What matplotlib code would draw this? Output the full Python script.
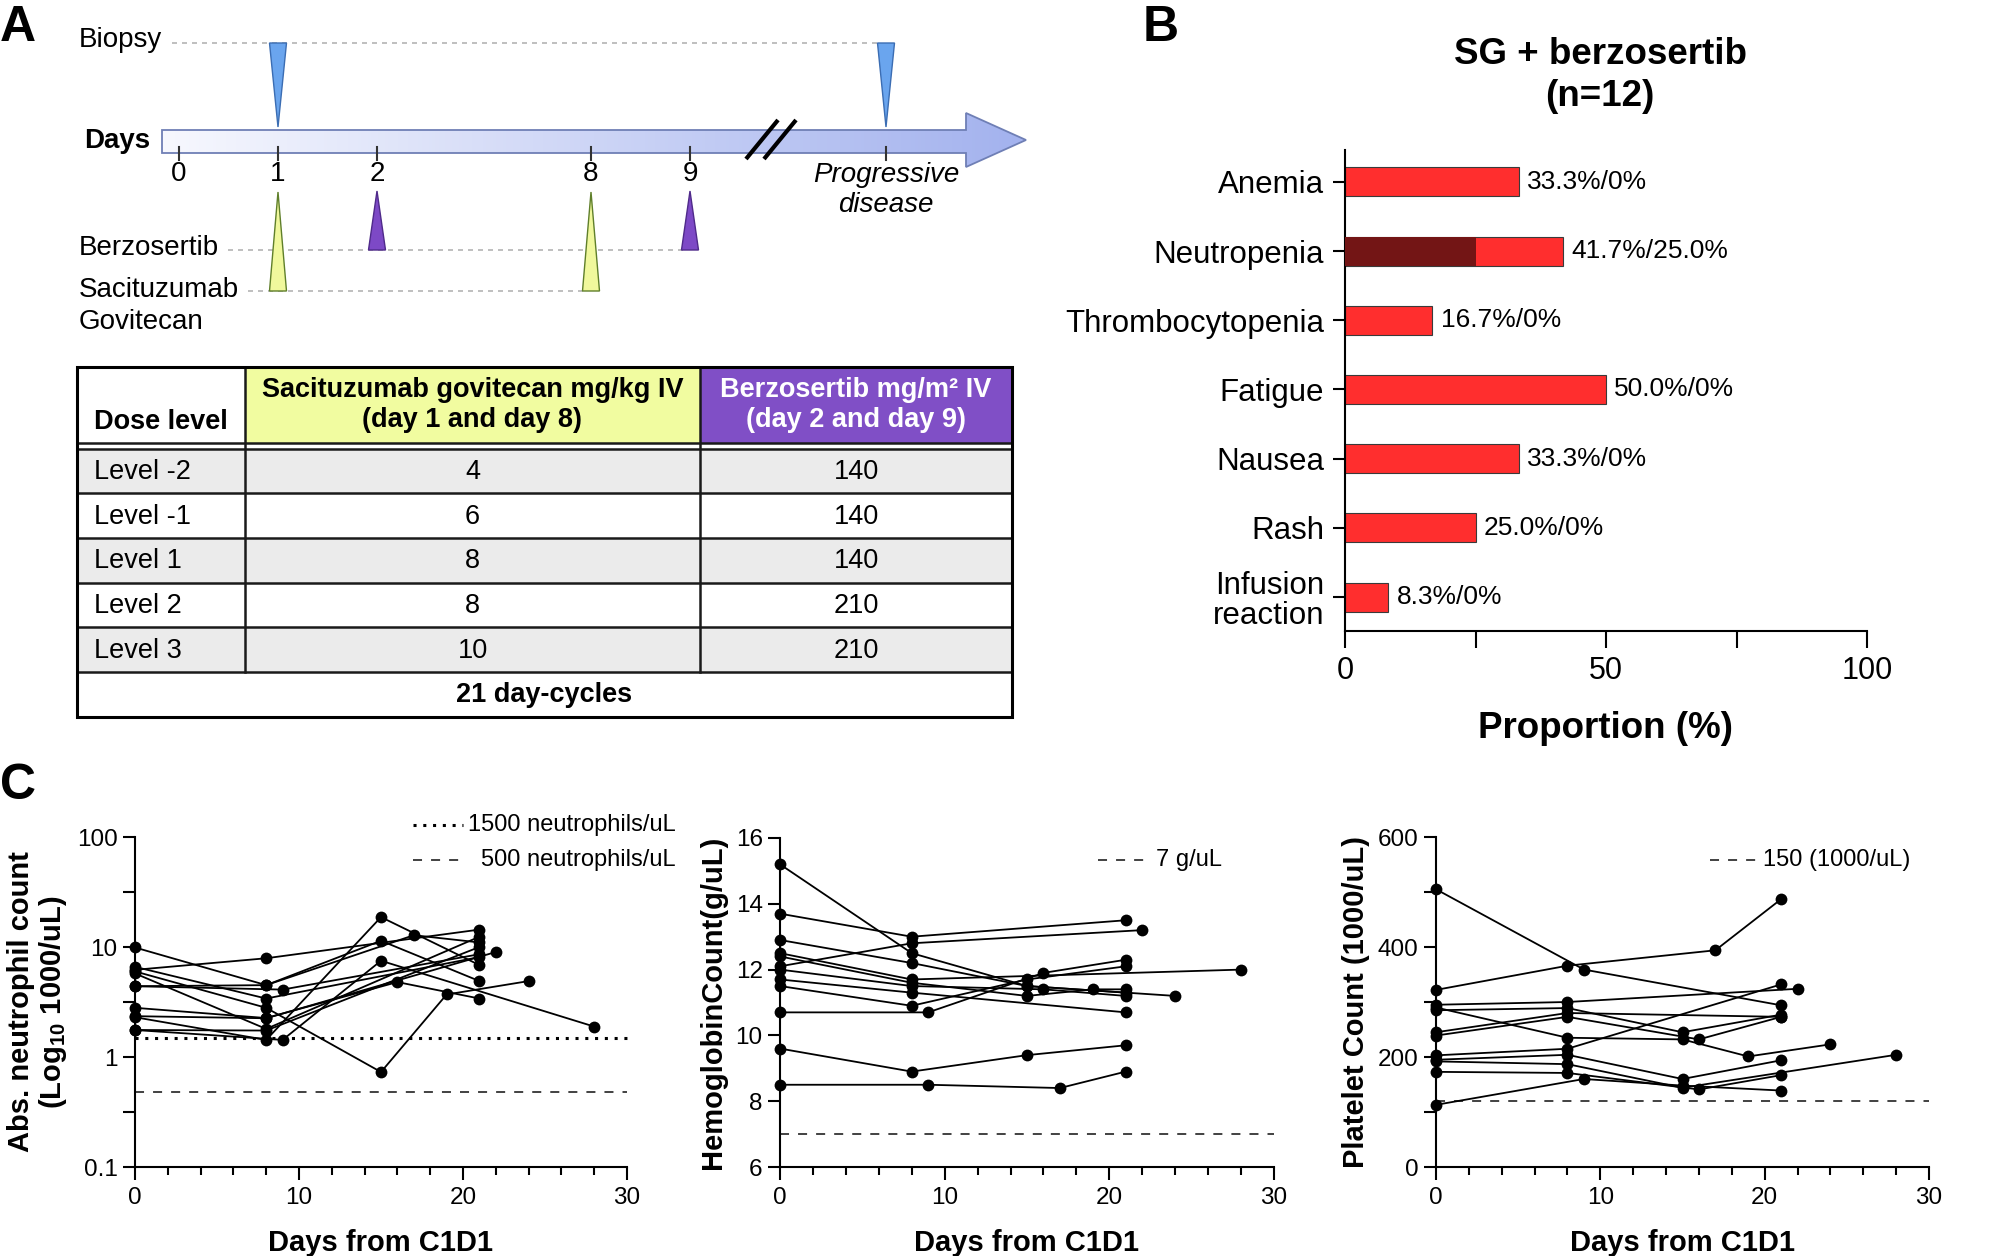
import numpy as np
import matplotlib
matplotlib.use("Agg")
import matplotlib.pyplot as plt
from matplotlib.patches import Polygon, Rectangle
from matplotlib.colors import LinearSegmentedColormap
from matplotlib.ticker import FixedLocator, NullFormatter

plt.rcParams['font.family'] = ['Liberation Sans', 'DejaVu Sans']
plt.rcParams['mathtext.fontset'] = 'custom'
plt.rcParams['mathtext.rm'] = 'Liberation Sans'
plt.rcParams['mathtext.bf'] = 'Liberation Sans:bold'

W, H = 1991, 1256

# ---------------- data ----------------
# panel A: dosing schedule (schematic, not to scale)
SCHED_DAYS = ['0', '1', '2', '8', '9']
BIOPSY_DAYS = ['1', 'PD']
SG_DAYS = ['1', '8']
BERZ_DAYS = ['2', '9']

DOSE_LEVELS = ['Level -2', 'Level -1', 'Level 1', 'Level 2', 'Level 3']
SG_DOSE = [4, 6, 8, 8, 10]
BERZ_DOSE = [140, 140, 140, 210, 210]

# panel B: adverse events, any grade / grade >= 3 (%)
AE_NAMES = ['Anemia', 'Neutropenia', 'Thrombocytopenia', 'Fatigue',
            'Nausea', 'Rash', 'Infusion\nreaction']
AE_ANY = [33.3, 41.7, 16.7, 50.0, 33.3, 25.0, 8.3]
AE_G3 = [0.0, 25.0, 0.0, 0.0, 0.0, 0.0, 0.0]

# panel C: per-patient lab values
ANC_DAYS = [[0, 8, 15, 21], [0, 8, 21], [0, 8, 15, 21], [0, 8, 15, 19, 24],
            [0, 9, 15, 28], [0, 8, 16, 21], [0, 8, 17, 21], [0, 9, 21],
            [0, 8, 21], [0, 8, 22], [0, 8, 21], [0, 8, 21]]
ANC_VALS = [[9.9, 4.5, 11.4, 4.9], [6.2, 7.9, 14.4], [2.3, 1.43, 18.7, 6.85],
            [6.0, 2.8, 0.73, 3.7, 4.9], [1.76, 1.43, 7.5, 1.89],
            [2.8, 2.26, 4.8, 3.4], [4.4, 4.5, 12.8, 11.0], [4.4, 4.1, 8.6],
            [5.75, 1.8, 12.4], [2.35, 2.25, 9.0], [1.76, 1.74, 10.0],
            [6.6, 3.4, 8.1]]
ANC_THRESH = [1.5, 0.48]

HB_DAYS = [[0, 8, 15, 24], [0, 8, 21], [0, 8, 22], [0, 8, 15, 21],
           [0, 9, 16, 21], [0, 8, 15, 21], [0, 8, 15, 21], [0, 9, 17, 21],
           [0, 8, 21], [0, 8, 15, 19, 21], [0, 8, 28], [0, 8, 16, 21]]
HB_VALS = [[15.2, 12.5, 11.5, 11.2], [13.7, 13.0, 13.5], [12.1, 12.8, 13.2],
           [12.9, 12.2, 11.5, 11.3], [10.7, 10.7, 11.9, 12.3],
           [11.5, 10.9, 11.7, 12.1], [9.6, 8.9, 9.4, 9.7],
           [8.5, 8.5, 8.4, 8.9], [11.7, 11.3, 10.7],
           [12.4, 11.6, 11.2, 11.4, 11.4], [12.5, 11.7, 12.0],
           [12.0, 11.5, 11.4, 11.2]]
HB_THRESH = 7

PLT_DAYS = [[0, 9, 21], [0, 8, 17, 21], [0, 8, 22], [0, 8, 15, 21],
            [0, 8, 15, 19, 24], [0, 8, 21], [0, 8, 16, 21], [0, 8, 21],
            [0, 8, 15, 21], [0, 8, 15, 28], [0, 8, 16, 21], [0, 9, 15, 21]]
PLT_VALS = [[505, 359, 294], [322, 366, 394, 487], [295, 300, 324],
            [285, 289, 245, 277], [290, 235, 232, 201, 223], [245, 280, 273],
            [239, 273, 232, 273], [203, 215, 332], [195, 204, 160, 194],
            [192, 187, 144, 204], [173, 171, 141, 167], [113, 160, 148, 139]]
PLT_THRESH = 120

# ---------------- figure ----------------
fig = plt.figure(figsize=(W / 100, H / 100), dpi=100)
ov = fig.add_axes([0, 0, 1, 1])
ov.axis('off')
ov.set_zorder(5)  # pixel-space overlay sits above the data axes

BOLD = dict(fontweight='bold')

# panel letters
ov.text(0, 28, 'A', fontsize=36, va='center', ha='left', **BOLD)
ov.text(1143, 28, 'B', fontsize=36, va='center', ha='left', **BOLD)
ov.text(0, 786, 'C', fontsize=36, va='center', ha='left', **BOLD)

# ---- panel A timeline ----
DAY_X = {'0': 179, '1': 278, '2': 377, '8': 591, '9': 690, 'PD': 886}
DASH = dict(color='#b4b4b4', lw=1.2, ls=(0, (3, 3)), zorder=1)

ov.plot([172, 878], [43, 43], **DASH)
ov.plot([228, 683], [250, 250], **DASH)
ov.plot([248, 584], [291, 291], **DASH)

arrow_pts = [(162, 130), (966, 130), (966, 113), (1026, 140),
             (966, 167), (966, 153), (162, 153)]
arrow = Polygon(arrow_pts, closed=True, fc='none', ec='#6f7fb5', lw=1.3, zorder=4)
ov.add_patch(arrow)
grad = np.linspace(0, 1, 256)[None, :]
cm = LinearSegmentedColormap.from_list('arr', ['#f7f8fe', '#a3b2ee'])
im = ov.imshow(grad, cmap=cm, extent=(162, 1026, 170, 110), aspect='auto', zorder=3)
im.set_clip_path(arrow)

def tri(xc, yb, yt, w, fc, ec):
    ov.add_patch(Polygon([(xc - w / 2, yb), (xc + w / 2, yb), (xc, yt)],
                         closed=True, fc=fc, ec=ec, lw=1.0, zorder=5))

for d in BIOPSY_DAYS:
    tri(DAY_X[d], 43, 127, 17, '#6aa5ee', '#3b6db3')
for d in BERZ_DAYS:
    tri(DAY_X[d], 250, 191, 17, '#7d49c6', '#4f2a8a')
for d in SG_DAYS:
    tri(DAY_X[d], 291, 192, 17, '#f0f89c', '#5f7f2a')

for d in SCHED_DAYS + ['PD']:
    ov.plot([DAY_X[d]] * 2, [147, 160], color='#333333', lw=1.5, zorder=5)
for d in SCHED_DAYS:
    ov.text(DAY_X[d], 174, d, ha='center', va='center', fontsize=20)

ov.plot([746, 778], [159, 120], color='black', lw=3, zorder=6, solid_capstyle='butt')
ov.plot([764, 796], [159, 120], color='black', lw=3, zorder=6, solid_capstyle='butt')

ov.text(DAY_X['PD'], 190, 'Progressive\ndisease', ha='center', va='center',
        fontsize=20, style='italic', linespacing=1.2)
ov.text(79, 40, 'Biopsy', ha='left', va='center', fontsize=20)
ov.text(84, 141, 'Days', ha='left', va='center', fontsize=20, **BOLD)
ov.text(79, 248, 'Berzosertib', ha='left', va='center', fontsize=20)
ov.text(79, 290, 'Sacituzumab', ha='left', va='center', fontsize=20)
ov.text(79, 322, 'Govitecan', ha='left', va='center', fontsize=20)

# ---- panel A table ----
TX = [77, 245, 700, 1012]
HY = (367, 443)
RY = [449, 493, 538, 583, 627, 672, 717]
ov.add_patch(Rectangle((TX[1], HY[0]), TX[2] - TX[1], HY[1] - HY[0], fc='#f1fca0', ec='none', zorder=1))
ov.add_patch(Rectangle((TX[2], HY[0]), TX[3] - TX[2], HY[1] - HY[0], fc='#804fc6', ec='none', zorder=1))
for i in range(len(DOSE_LEVELS)):
    if i % 2 == 0:
        ov.add_patch(Rectangle((TX[0], RY[i]), TX[3] - TX[0], RY[i + 1] - RY[i],
                               fc='#ebebeb', ec='none', zorder=1))
LN = dict(color='#1a1a1a', lw=1.8, zorder=2)
for y in [HY[1], RY[0]] + RY[1:-1]:
    ov.plot([TX[0], TX[3]], [y, y], **LN)
for x in TX[1:3]:
    ov.plot([x, x], [HY[0], RY[-2]], **LN)
ov.add_patch(Rectangle((TX[0], HY[0]), TX[3] - TX[0], RY[-1] - HY[0],
                       fc='none', ec='black', lw=2.2, zorder=3))

TFS = 19.5
ov.text(94, 422, 'Dose level', ha='left', va='center', fontsize=TFS, **BOLD)
ov.text((TX[1] + TX[2]) / 2, 405, 'Sacituzumab govitecan mg/kg IV\n(day 1 and day 8)',
        ha='center', va='center', fontsize=TFS, linespacing=1.2, **BOLD)
ov.text((TX[2] + TX[3]) / 2, 405, 'Berzosertib mg/m\u00b2 IV\n(day 2 and day 9)',
        ha='center', va='center', fontsize=TFS, color='white', linespacing=1.2, **BOLD)
for i, (lv, sg, bz) in enumerate(zip(DOSE_LEVELS, SG_DOSE, BERZ_DOSE)):
    yc = (RY[i] + RY[i + 1]) / 2 + 1
    ov.text(94, yc, lv, ha='left', va='center', fontsize=TFS)
    ov.text((TX[1] + TX[2]) / 2, yc, str(sg), ha='center', va='center', fontsize=TFS)
    ov.text((TX[2] + TX[3]) / 2, yc, str(bz), ha='center', va='center', fontsize=TFS)
ov.text((TX[0] + TX[3]) / 2, (RY[-2] + RY[-1]) / 2 + 1, '21 day-cycles',
        ha='center', va='center', fontsize=TFS, **BOLD)

# legends of panel C thresholds (drawn in figure pixels)
ov.plot([413, 463], [825, 825], color='black', lw=2.2, ls=(0, (1, 2.2)), clip_on=False)
ov.text(676, 825, '1500 neutrophils/uL', ha='right', va='center', fontsize=17)
ov.plot([413, 467], [860, 860], color='#333333', lw=1.3, ls=(0, (5, 5)), clip_on=False)
ov.text(676, 860, '500 neutrophils/uL', ha='right', va='center', fontsize=17)
ov.plot([1098, 1147], [860, 860], color='#333333', lw=1.3, ls=(0, (5, 5)), clip_on=False)
ov.text(1156, 860, '7 g/uL', ha='left', va='center', fontsize=17)
ov.plot([1710, 1759], [860, 860], color='#333333', lw=1.3, ls=(0, (5, 5)), clip_on=False)
ov.text(1763, 860, '150 (1000/uL)', ha='left', va='center', fontsize=17)

ov.set_xlim(0, W)
ov.set_ylim(H, 0)

# ---- panel B ----
def frac(x0, y0, x1, y1):
    return [x0 / W, 1 - y1 / H, (x1 - x0) / W, (y1 - y0) / H]

axb = fig.add_axes(frac(1345, 150, 1867, 631))
ypos = np.arange(len(AE_NAMES))
axb.barh(ypos, AE_ANY, height=0.42, color='#ff2e2e', edgecolor='#3a3a3a', lw=0.8, zorder=2)
axb.barh(ypos, AE_G3, height=0.42, color='#731515', edgecolor='none', zorder=3)
for y, a, g in zip(ypos, AE_ANY, AE_G3):
    lab = f'{a:.1f}%/{g:.1f}%' if g > 0 else f'{a:.1f}%/0%'
    axb.annotate(lab, (a, y), xytext=(6, 0), textcoords='offset points',
                 ha='left', va='center', fontsize=19)
axb.set_xlim(0, 100)
axb.set_ylim(6.49, -0.46)
axb.set_yticks(ypos)
axb.set_yticklabels(AE_NAMES, fontsize=22.5, linespacing=1.0)
axb.set_xticks([0, 50, 100])
axb.set_xticklabels(['0', '50', '100'], fontsize=22)
axb.xaxis.set_minor_locator(FixedLocator([25, 75]))
axb.tick_params(axis='x', which='both', length=12, width=1.5, pad=6)
axb.tick_params(axis='y', length=9, width=1.5, pad=6)
for s in ['top', 'right']:
    axb.spines[s].set_visible(False)
for s in ['left', 'bottom']:
    axb.spines[s].set_linewidth(1.5)
axb.set_xlabel('Proportion (%)', fontsize=26.5, labelpad=18, **BOLD)
fig.text(1600 / W, 1 - 55 / H, 'SG + berzosertib', ha='center', va='center', fontsize=26.5, **BOLD)
fig.text(1600 / W, 1 - 97 / H, '(n=12)', ha='center', va='center', fontsize=26.5, **BOLD)

# ---- panel C ----
def lab_panel(box, days, vals, ylim, ylabel):
    ax = fig.add_axes(frac(*box))
    for d, v in zip(days, vals):
        ax.plot(d, v, '-o', color='black', lw=1.3, ms=8.5, mew=0, clip_on=False, zorder=3)
    ax.set_xlim(0, 30)
    ax.set_ylim(*ylim)
    ax.set_xticks([0, 10, 20, 30])
    ax.xaxis.set_minor_locator(FixedLocator([2, 4, 6, 8, 12, 14, 16, 18, 22, 24, 26, 28]))
    ax.tick_params(axis='x', which='major', length=9.5, width=1.5, pad=5, labelsize=17.5)
    ax.tick_params(axis='x', which='minor', length=5.5, width=1.5)
    ax.tick_params(axis='y', which='both', length=8.5, width=1.5, pad=4, labelsize=17.5)
    for s in ['top', 'right']:
        ax.spines[s].set_visible(False)
    for s in ['left', 'bottom']:
        ax.spines[s].set_linewidth(1.5)
    ax.set_xlabel('Days from C1D1', fontsize=21, labelpad=14, **BOLD)
    ax.set_ylabel(ylabel, fontsize=21, labelpad=6, linespacing=1.05, **BOLD)
    return ax

ax1 = lab_panel((135, 837, 627, 1167), ANC_DAYS, ANC_VALS, (0.1, 100),
                'Abs. neutrophil count\n(Log$_\\mathbf{10}$ 1000/uL)')
ax1.set_yscale('log')
ax1.set_ylim(0.1, 100)
ax1.yaxis.set_major_locator(FixedLocator([0.1, 1, 10, 100]))
ax1.set_yticklabels(['0.1', '1', '10', '100'])
ax1.yaxis.set_minor_locator(FixedLocator([10 ** -0.5, 10 ** 0.5, 10 ** 1.5]))
ax1.yaxis.set_minor_formatter(NullFormatter())
ax1.plot([0, 30.2], [ANC_THRESH[0]] * 2, color='black', lw=2.2, ls=(0, (1, 2.2)), clip_on=False, zorder=2)
ax1.plot([0, 30], [ANC_THRESH[1]] * 2, color='#333333', lw=1.3, ls=(0, (5, 5)), zorder=2)

ax2 = lab_panel((780, 838, 1274, 1167), HB_DAYS, HB_VALS, (6, 16), 'HemoglobinCount(g/uL)')
ax2.set_yticks([6, 8, 10, 12, 14, 16])
ax2.plot([0, 30], [HB_THRESH] * 2, color='#333333', lw=1.3, ls=(0, (5, 5)), zorder=2)

ax3 = lab_panel((1436, 837, 1929, 1167), PLT_DAYS, PLT_VALS, (0, 600), 'Platelet Count (1000/uL)')
ax3.set_yticks([0, 200, 400, 600])
ax3.yaxis.set_minor_locator(FixedLocator([100, 300, 500]))
ax3.plot([0, 30], [PLT_THRESH] * 2, color='#333333', lw=1.3, ls=(0, (5, 5)), zorder=2)

fig.savefig('out.png', dpi=100, facecolor='white')
